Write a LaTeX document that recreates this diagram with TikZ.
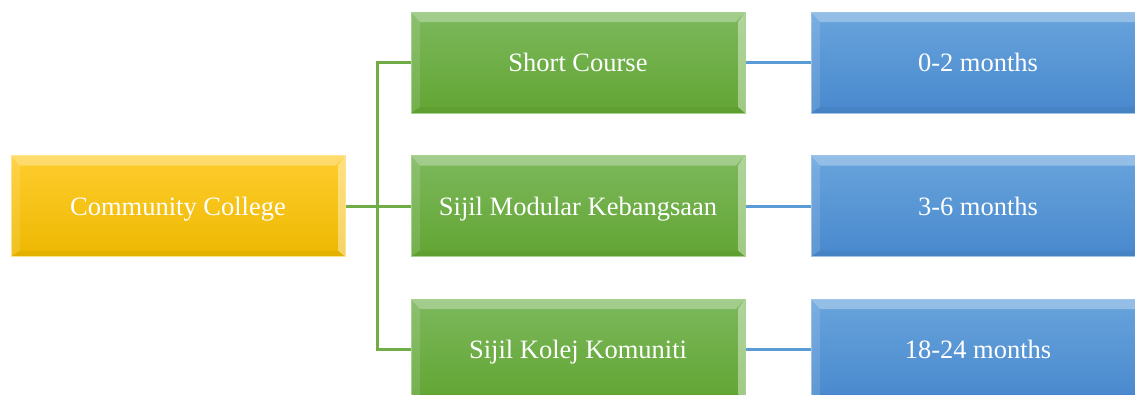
\documentclass[tikz,border=0pt]{standalone}
\usepackage{fontspec}
\setmainfont{Liberation Serif}
\usetikzlibrary{calc}
\definecolor{ytop}{HTML}{FFCD2E}
\definecolor{ybot}{HTML}{EDB800}
\definecolor{yedge}{HTML}{FFE38A}
\definecolor{gtop}{HTML}{7CB85C}
\definecolor{gbot}{HTML}{62A533}
\definecolor{gedge}{HTML}{A9D18E}
\definecolor{btop}{HTML}{68A4DC}
\definecolor{bbot}{HTML}{4888CD}
\definecolor{bedge}{HTML}{9DC3E6}
\definecolor{gline}{HTML}{70AD47}
\definecolor{bline}{HTML}{5B9BD5}
\tikzset{
  bev/.style={minimum width=334pt, minimum height=101pt, inner sep=0pt, text=white,
    text height=24pt, text depth=6pt,
    font=\fontsize{26.5}{30}\selectfont, shading angle=0,
    path picture={
      \coordinate (NW) at (path picture bounding box.north west);
      \coordinate (NE) at (path picture bounding box.north east);
      \coordinate (SW) at (path picture bounding box.south west);
      \coordinate (SE) at (path picture bounding box.south east);
      \fill[white,opacity=0.3] (NW) -- (NE) -- ($(NE)+(-9pt,-10pt)$) -- ($(NW)+(9pt,-10pt)$) -- cycle;
      \fill[white,opacity=0.12] (NW) -- ($(NW)+(9pt,-10pt)$) -- ($(SW)+(9pt,6pt)$) -- (SW) -- cycle;
      \fill[white,opacity=0.4] (NE) -- ($(NE)+(-7pt,-10pt)$) -- ($(SE)+(-7pt,6pt)$) -- (SE) -- cycle;
      \fill[black,opacity=0.04] (SW) -- ($(SW)+(9pt,6pt)$) -- ($(SE)+(-7pt,6pt)$) -- (SE) -- cycle;
    }},
  ybox/.style={bev, top color=ytop, bottom color=ybot, draw=yedge, line width=1pt},
  gbox/.style={bev, top color=gtop, bottom color=gbot, draw=gedge, line width=1pt},
  bbox/.style={bev, top color=btop, bottom color=bbot, draw=bedge, line width=1pt},
  gconn/.style={draw=gline, line width=3pt},
  bconn/.style={draw=bline, line width=3pt},
}
\begin{document}
\begin{tikzpicture}[x=1pt,y=-1pt]
\useasboundingbox (0,0) rectangle (1135,394);
\clip (0,0) rectangle (1135,394);
\fill[white] (0,0) rectangle (1135,394);
\node[ybox] (cc) at (178,206) {Community College};
\node[gbox] (g1) at (578,62.5) {Short Course};
\node[gbox] (g2) at (578,206) {Sijil Modular Kebangsaan};
\node[gbox] (g3) at (578,349.5) {Sijil Kolej Komuniti};
\node[bbox] (b1) at (978,62.5) {0-2 months};
\node[bbox] (b2) at (978,206) {3-6 months};
\node[bbox] (b3) at (978,349.5) {18-24 months};
\coordinate (j) at (377,206);
\draw[gconn] (cc.east) -- (j) -- (g2.west);
\draw[gconn] (g1.west) -| (j) |- (g3.west);
\draw[bconn] (g1.east) -- (b1.west);
\draw[bconn] (g2.east) -- (b2.west);
\draw[bconn] (g3.east) -- (b3.west);
\end{tikzpicture}
\end{document}
